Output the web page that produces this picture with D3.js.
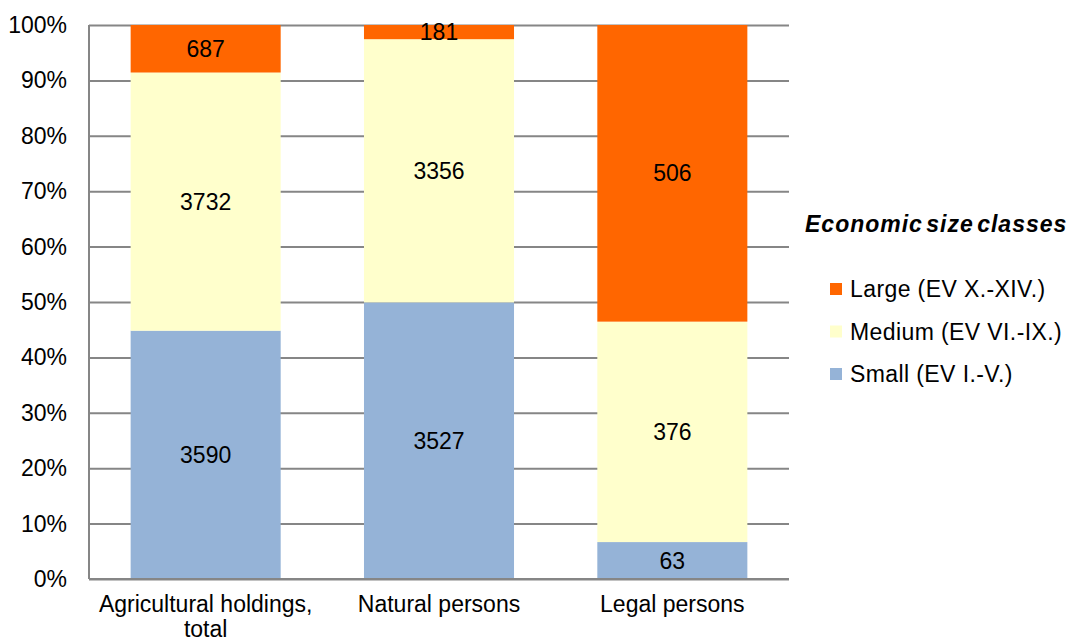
<!DOCTYPE html>
<html>
<head>
<meta charset="utf-8">
<script src="https://cdn.jsdelivr.net/npm/d3@7"></script>
<style>
  body { margin: 0; background: #fff; }
  svg text { font-family: "Liberation Sans", Arial, sans-serif; fill: #000; }
  .grid line { stroke: #868686; stroke-width: 2; }
  .grid path { display: none; }
</style>
</head>
<body>
<script>
// categories and counts per size class
var categories = ["Agricultural holdings, total", "Natural persons", "Legal persons"];
var small  = [3590, 3527, 63];
var medium = [3732, 3356, 376];
var large  = [687, 181, 506];
var seriesNames = ["Small (EV I.-V.)", "Medium (EV VI.-IX.)", "Large (EV X.-XIV.)"];
var seriesColors = ["#95B3D7", "#FFFFCC", "#FF6600"];
var yTicks = [0, 0.1, 0.2, 0.3, 0.4, 0.5, 0.6, 0.7, 0.8, 0.9, 1];

var W = 1071, H = 642;
var margin = {top: 25, right: 282, bottom: 63, left: 89};
var w = W - margin.left - margin.right,
    h = H - margin.top - margin.bottom;
var fs = "23px";

var svg = d3.select("body").append("svg")
    .attr("width", W).attr("height", H);
var g = svg.append("g")
    .attr("transform", "translate(" + margin.left + "," + margin.top + ")");

// build stacked shares
var rows = categories.map(function(c, i) {
  var tot = small[i] + medium[i] + large[i];
  return {cat: c, vals: [small[i], medium[i], large[i]], tot: tot};
});

var x = d3.scaleBand().domain(categories).range([0, w]).paddingInner(0.357).paddingOuter(0.1785);
var y = d3.scaleLinear().domain([0, 1]).range([h, 0]);

// gridlines
g.append("g").attr("class", "grid")
  .call(d3.axisLeft(y).tickValues(yTicks).tickSize(-w).tickFormat(""));

// bars
rows.forEach(function(r) {
  var cum = 0;
  r.vals.forEach(function(v, k) {
    var y0 = cum / r.tot, y1 = (cum + v) / r.tot;
    cum += v;
    g.append("rect")
      .attr("x", x(r.cat))
      .attr("width", x.bandwidth())
      .attr("y", y(y1))
      .attr("height", y(y0) - y(y1))
      .attr("fill", seriesColors[k]);
    g.append("text")
      .attr("x", x(r.cat) + x.bandwidth() / 2)
      .attr("y", y((y0 + y1) / 2))
      .attr("dy", "0.35em")
      .attr("text-anchor", "middle")
      .style("font-size", fs)
      .text(v);
  });
});

// axis lines on left and bottom
g.append("line").attr("x1", 0).attr("x2", 0).attr("y1", 0).attr("y2", h)
  .attr("stroke", "#868686").attr("stroke-width", 2);
g.append("line").attr("x1", 0).attr("x2", w).attr("y1", h).attr("y2", h)
  .attr("stroke", "#868686").attr("stroke-width", 2);

// y labels
g.selectAll(".ylab").data(yTicks).enter().append("text")
  .attr("class", "ylab")
  .attr("x", -22)
  .attr("y", function(d) { return y(d); })
  .attr("dy", "0.35em")
  .attr("text-anchor", "end")
  .style("font-size", fs)
  .text(function(d) { return Math.round(d * 100) + "%"; });

// x labels
var xl = g.selectAll(".xlab").data(categories).enter().append("text")
  .attr("class", "xlab")
  .attr("text-anchor", "middle")
  .attr("y", h + 33)
  .style("font-size", fs);
xl.each(function(d) {
  var t = d3.select(this);
  var parts = d.indexOf(",") > 0 ? [d.slice(0, d.indexOf(",") + 1), d.slice(d.indexOf(",") + 2)] : [d];
  parts.forEach(function(p, i) {
    t.append("tspan")
      .attr("x", x(d) + x.bandwidth() / 2)
      .attr("dy", i === 0 ? 0 : 25)
      .text(p);
  });
});

// legend
var legend = svg.append("g");
legend.append("text")
  .attr("x", 805).attr("y", 232)
  .style("font-size", fs)
  .style("font-weight", "bold")
  .style("font-style", "italic")
  .style("letter-spacing", "1px")
  .style("word-spacing", "-4px")
  .text("Economic size classes");

var legendOrder = [2, 1, 0];
legendOrder.forEach(function(k, i) {
  var ly = 289 + i * 42.5;
  legend.append("rect")
    .attr("x", 830).attr("y", ly - 6)
    .attr("width", 12).attr("height", 12)
    .attr("fill", seriesColors[k]);
  legend.append("text")
    .attr("x", 850).attr("y", ly)
    .attr("dy", "0.35em")
    .style("font-size", fs)
    .style("letter-spacing", "0.4px")
    .text(seriesNames[k]);
});
</script>
</body>
</html>
